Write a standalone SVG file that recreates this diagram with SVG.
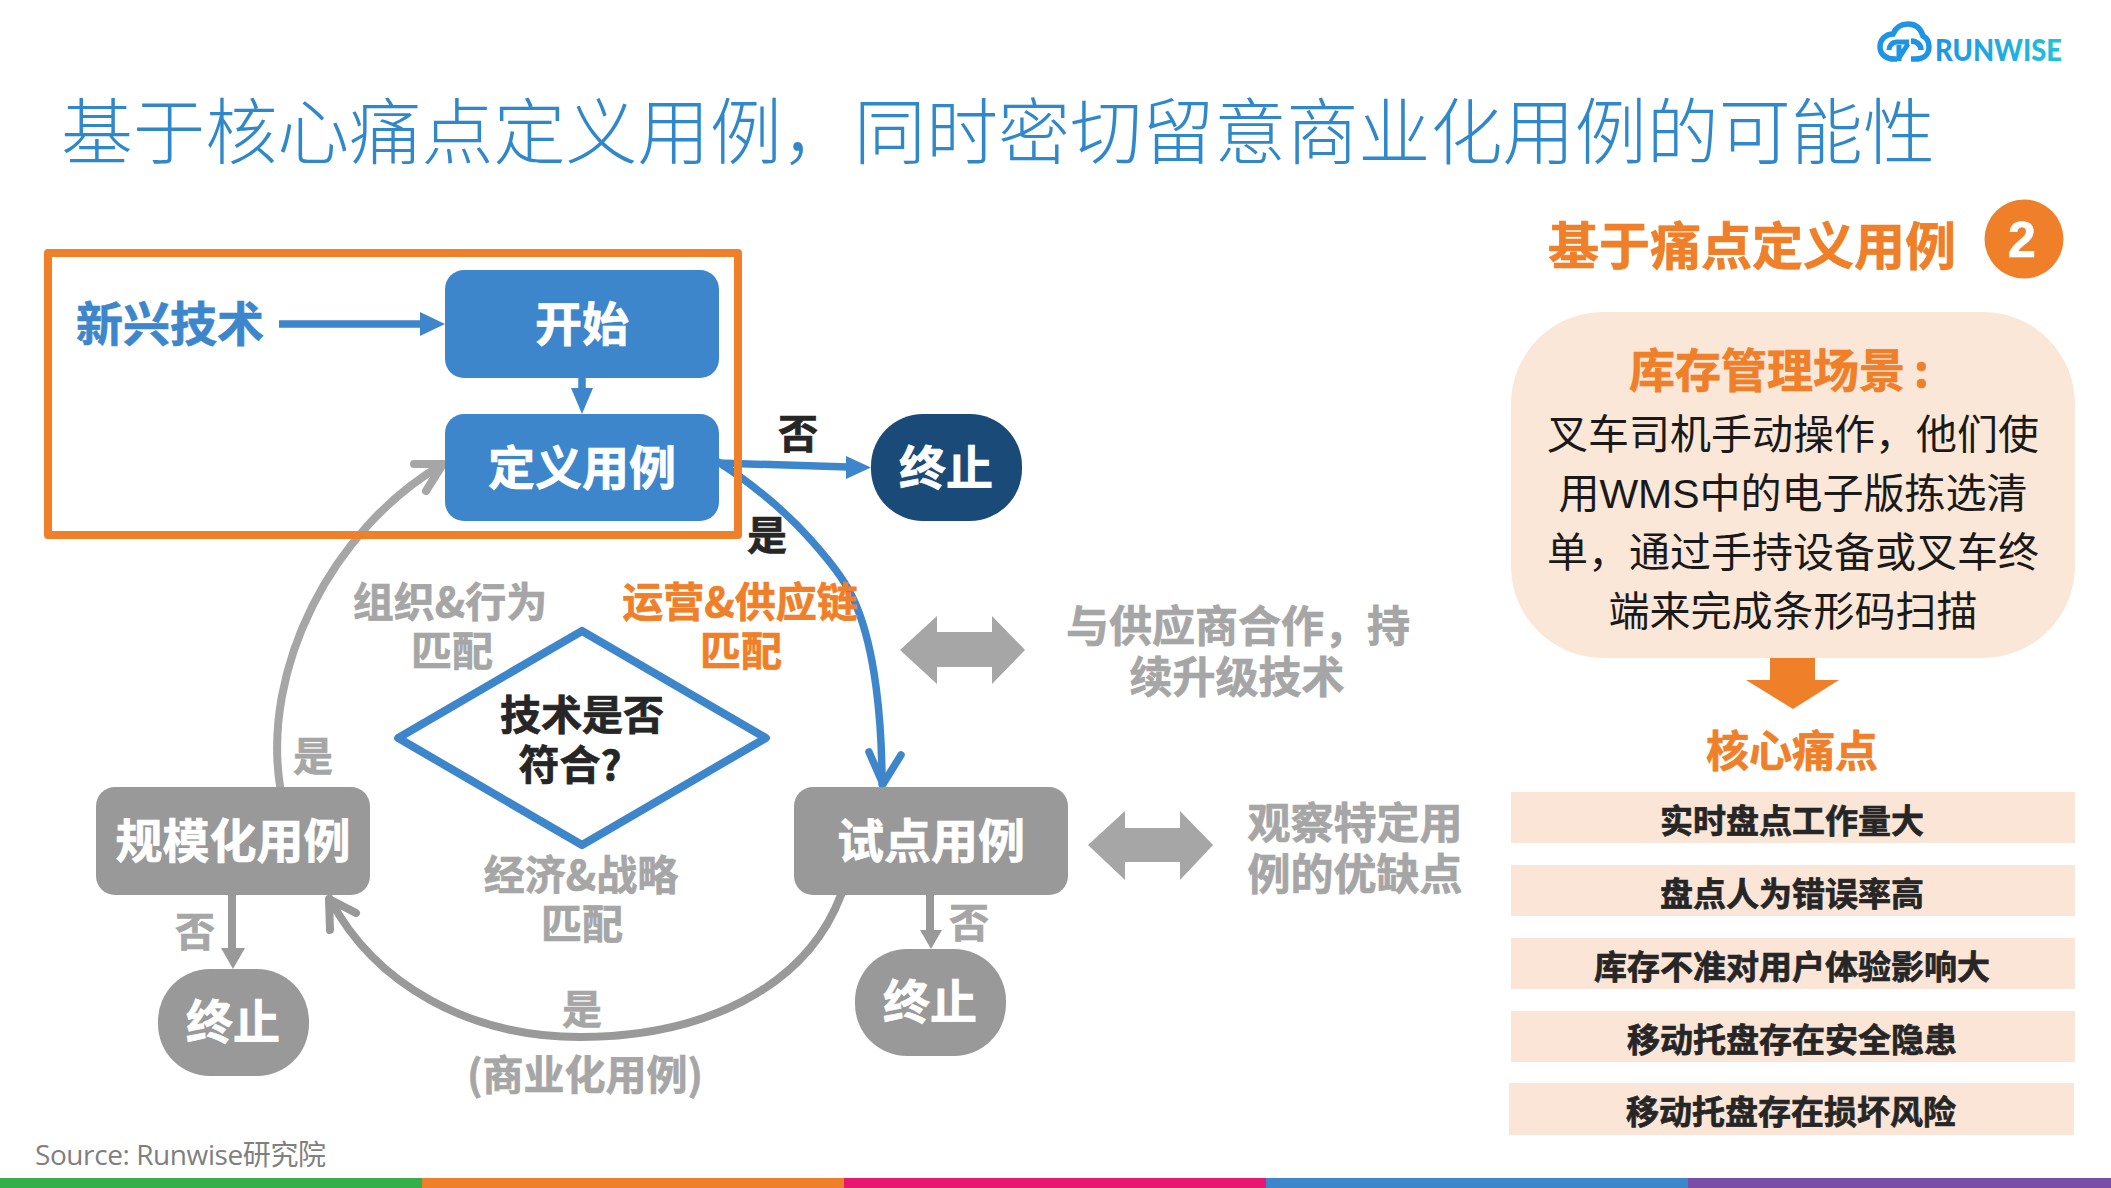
<svg xmlns="http://www.w3.org/2000/svg" width="2111" height="1188" viewBox="0 0 2111 1188">
<style>
text{font-family:"Noto Sans CJK SC","Noto Sans",sans-serif;text-anchor:middle}
.b{font-weight:700;stroke-width:.7px}
.t46{font-size:47px}.t41{font-size:41px}.t40{font-size:40px}.t43{font-size:43px}.t33{font-size:33px}
.w{fill:#fff;stroke:#fff}.g{fill:#a6a6a6;stroke:#a6a6a6}.k{fill:#262626;stroke:#262626}.o{fill:#ef7f28;stroke:#ef7f28}.bl{fill:#3e86cc;stroke:#3e86cc}
.bar{fill:#fbe5d6}
.cb{fill:none;stroke:#3e86cc;stroke-width:7.5;stroke-linecap:round;stroke-linejoin:round}
.cg{fill:none;stroke:#a6a6a6;stroke-width:8;stroke-linecap:round;stroke-linejoin:round}
.cd{fill:none;stroke:#999;stroke-width:8;stroke-linecap:round;stroke-linejoin:round}
.body{font-size:41px;fill:#1a1a1a}
</style>
<defs>
<linearGradient id="lg" x1="0" x2="1" y1="0" y2="0"><stop offset="0" stop-color="#1e94e6"/><stop offset="1" stop-color="#22c3d6"/></linearGradient>
</defs>
<rect width="2111" height="1188" fill="#fff"/>
<text id="title" x="61" y="158" font-size="72" font-weight="300" style="text-anchor:start" fill="#2f88c9" textLength="1874" lengthAdjust="spacingAndGlyphs">基于核心痛点定义用例，同时密切留意商业化用例的可能性</text>
<g id="logo">
<path d="M1897 59C1886 60 1880 54 1880 47C1880 39 1886 34 1893 34C1896 27 1902 24 1908 24C1916 24 1921 29 1923 36C1927 38 1929 42 1929 47C1929 55 1923 59 1915 59H1911M1911 41C1917 41 1921 45 1921 50" fill="none" stroke="#1e94e6" stroke-width="5.5"/>
<path d="M1899 61V45M1889 50C1889 46 1892 42 1897 42H1909M1899 58L1908 44" fill="none" stroke="#1e94e6" stroke-width="5"/>
<text x="1935" y="61" font-size="30" font-weight="900" style="text-anchor:start;font-family:'Lato',sans-serif" fill="url(#lg)" textLength="127" lengthAdjust="spacingAndGlyphs">RUNWISE</text>
</g>
<g id="connectors">
<path class="cb" style="stroke-linecap:butt" d="M279 324H422"/><path d="M420 312L445 324L420 336Z" fill="#3e86cc"/>
<path class="cb" style="stroke-linecap:butt" d="M582 378V390"/><path d="M571 388H593L582 414Z" fill="#3e86cc"/>
<path class="cb" style="stroke-linecap:butt" d="M718 463L848 467"/><path d="M846 456L871 467.5L846 479Z" fill="#3e86cc"/>
<path class="cb" d="M718 462C742 477 780 505 811 540C835 567 848 585 856 605C875 650 882 720 882 784M869 752L883 784L901 755"/>
<path class="cg" d="M280 786C262 670 330 530 443 464M414 464L443 464L426 491"/>
<path class="cd" d="M841 895C805 990 700 1037 580 1037C470 1037 375 985 330 899M330 930L329 899L356 913"/>
<path class="cd" style="stroke-linecap:butt" d="M232 895V950"/><path d="M221 948H245L233 969Z" fill="#999"/>
<path class="cd" style="stroke-linecap:butt" d="M930 895V932"/><path d="M920 930H942L931 949Z" fill="#999"/>
<path d="M900 650L937 616V632H992V616L1025 650L992 684V667H937V684Z" fill="#a6a6a6"/>
<path d="M1088 845L1125 811V828H1180V811L1213 845L1180 880V862H1125V880Z" fill="#a6a6a6"/>
</g>
<g id="highlight"><rect x="48" y="253" width="690" height="282" fill="none" stroke="#ef7f28" stroke-width="8" stroke-linejoin="round"/></g>
<g id="n-tech"><text class="b t46 bl" x="170" y="341">新兴技术</text></g>
<g id="n-start"><rect x="445" y="270" width="274" height="108" rx="19" fill="#3e86cc"/><text class="b t46 w" x="582" y="341">开始</text></g>
<g id="n-define"><rect x="445" y="414" width="274" height="107" rx="19" fill="#3e86cc"/><text class="b t46 w" x="582" y="485">定义用例</text></g>
<g id="n-end1"><rect x="871" y="414" width="151" height="107" rx="52" fill="#1a4a78"/><text class="b t46 w" x="946" y="485">终止</text></g>
<g id="n-diamond"><path d="M582 632L764 738L582 844L400 738Z" fill="#fff" stroke="#3e86cc" stroke-width="8" stroke-linejoin="round" transform="translate(582 738) scale(1.01) translate(-582 -738)"/><text class="b t41 k" x="582" y="730">技术是否</text><text class="b t41 k" x="570" y="780">符合?</text></g>
<g id="n-scale"><rect x="96" y="787" width="274" height="108" rx="19" fill="#999"/><text class="b t46 w" x="233" y="858">规模化用例</text></g>
<g id="n-pilot"><rect x="794" y="787" width="274" height="108" rx="19" fill="#999"/><text class="b t46 w" x="931" y="858">试点用例</text></g>
<g id="n-end2"><rect x="158" y="969" width="151" height="107" rx="52" fill="#999"/><text class="b t46 w" x="233" y="1039">终止</text></g>
<g id="n-end3"><rect x="855" y="949" width="151" height="107" rx="52" fill="#999"/><text class="b t46 w" x="930" y="1019">终止</text></g>
<g id="labels">
<text class="b t40 k" x="798" y="448">否</text>
<text class="b t40 k" x="767" y="550">是</text>
<text class="b t41 g" x="450" y="617">组织&amp;行为</text>
<text class="b t41 g" x="452" y="666">匹配</text>
<text class="b t41 o" x="740" y="617">运营&amp;供应链</text>
<text class="b t41 o" x="741" y="666">匹配</text>
<text class="b t40 g" x="313" y="771">是</text>
<text class="b t41 g" x="581" y="890">经济&amp;战略</text>
<text class="b t41 g" x="582" y="939">匹配</text>
<text class="b t40 g" x="582" y="1024">是</text>
<text class="b t41 g" x="585" y="1090">(商业化用例)</text>
<text class="b t40 g" x="195" y="946">否</text>
<text class="b t40 g" x="969" y="937">否</text>
<text class="b t43 g" x="1238" y="642">与供应商合作，持</text>
<text class="b t43 g" x="1237" y="693">续升级技术</text>
<text class="b t43 g" x="1355" y="839">观察特定用</text>
<text class="b t43 g" x="1355" y="890">例的优缺点</text>
</g>
<g id="panel-head"><text class="b o" x="1752" y="265" font-size="51">基于痛点定义用例</text><circle cx="2024" cy="239" r="39.5" fill="#ef7f28"/><text class="b w" x="2022" y="257" font-size="50" style="font-family:'Liberation Sans',sans-serif">2</text></g>
<g id="panel-scenario"><rect x="1511" y="312" width="564" height="346" rx="92" fill="#fbe7d8"/>
<text class="b o" x="1629" y="387" font-size="46" style="text-anchor:start">库存管理场景<tspan dx="9">:</tspan></text>
<text class="body" x="1793" y="449">叉车司机手动操作，他们使</text>
<text class="body" x="1793" y="508">用<tspan font-family="Liberation Sans">WMS</tspan>中的电子版拣选清</text>
<text class="body" x="1793" y="567">单，通过手持设备或叉车终</text>
<text class="body" x="1793" y="626">端来完成条形码扫描</text></g>
<path id="panel-arrow" d="M1770 658H1815V680H1839L1793 709L1746 680H1770Z" fill="#ef7f28"/>
<g id="panel-core"><text class="b t43 o" x="1792" y="767">核心痛点</text></g>
<g id="pain1"><rect class="bar" x="1511" y="792" width="564" height="51"/><text class="b t33 k" x="1792" y="833">实时盘点工作量大</text></g>
<g id="pain2"><rect class="bar" x="1511" y="865" width="564" height="51"/><text class="b t33 k" x="1792" y="906">盘点人为错误率高</text></g>
<g id="pain3"><rect class="bar" x="1511" y="938" width="564" height="51"/><text class="b t33 k" x="1792" y="979">库存不准对用户体验影响大</text></g>
<g id="pain4"><rect class="bar" x="1511" y="1011" width="564" height="51"/><text class="b t33 k" x="1792" y="1052">移动托盘存在安全隐患</text></g>
<g id="pain5"><rect class="bar" x="1509" y="1083" width="565" height="52"/><text class="b t33 k" x="1791" y="1124">移动托盘存在损坏风险</text></g>
<text id="source" x="35" y="1165" font-size="28" fill="#808080" style="text-anchor:start;font-family:'Open Sans','Noto Sans CJK SC',sans-serif" textLength="291">Source: Runwise研究院</text>
<g id="footer"><rect y="1178" width="422" height="10" fill="#33b04a"/><rect x="422" y="1178" width="422" height="10" fill="#ef7f28"/><rect x="844" y="1178" width="422" height="10" fill="#e9176f"/><rect x="1266" y="1178" width="422" height="10" fill="#3e86cc"/><rect x="1688" y="1178" width="423" height="10" fill="#7a4ea8"/></g>
</svg>
